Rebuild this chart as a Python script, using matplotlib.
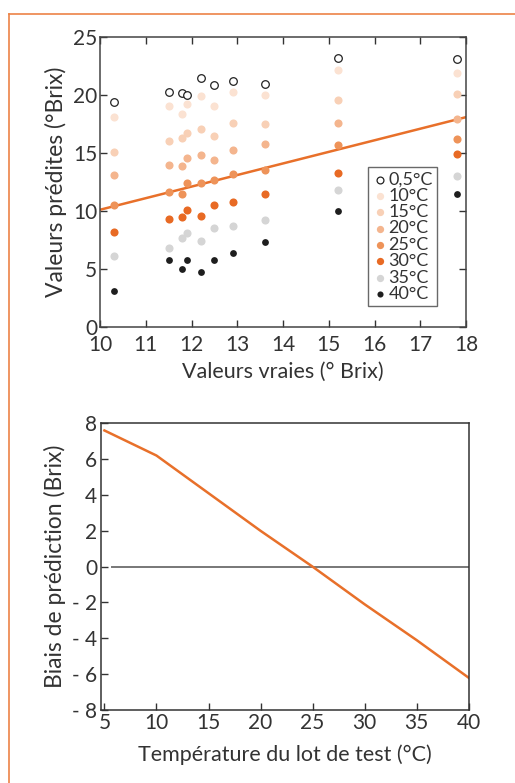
import matplotlib.pyplot as plt
from matplotlib.lines import Line2D

plt.rcParams['font.family'] = ['Lato', 'DejaVu Sans']
plt.rcParams['text.color'] = '#333333'
plt.rcParams['axes.labelcolor'] = '#333333'
plt.rcParams['xtick.color'] = '#333333'
plt.rcParams['ytick.color'] = '#333333'

# valeurs vraies (° Brix) des lots de test
true_vals = [10.3, 11.5, 11.8, 11.9, 12.2, 12.5, 12.9, 13.6, 15.2, 17.8]

# valeurs prédites par température
pred = {
    '0,5°C': [19.4, 20.3, 20.2, 20.0, 21.5, 20.9, 21.2, 21.0, 23.2, 23.1],
    '10°C': [18.1, 19.1, 18.4, 19.2, 19.9, 19.1, 20.3, 20.0, 22.2, 21.9],
    '15°C': [15.1, 16.0, 16.3, 16.7, 17.1, 16.5, 17.6, 17.5, 19.6, 20.1],
    '20°C': [13.1, 14.0, 13.9, 14.6, 14.8, 14.4, 15.3, 15.8, 17.6, 17.9],
    '25°C': [10.5, 11.6, 11.5, 12.4, 12.4, 12.7, 13.2, 13.5, 15.7, 16.2],
    '30°C': [8.2, 9.3, 9.5, 10.1, 9.6, 10.5, 10.8, 11.5, 13.3, 14.9],
    '35°C': [6.1, 6.8, 7.7, 8.1, 7.4, 8.5, 8.7, 9.2, 11.8, 13.0],
    '40°C': [3.1, 5.8, 5.0, 5.8, 4.7, 5.8, 6.4, 7.3, 10.0, 11.5],
}
colors = {
    '0,5°C': 'white', '10°C': '#fbe2d2', '15°C': '#f8d0b6', '20°C': '#f4b58e',
    '25°C': '#ee9359', '30°C': '#e86a24', '35°C': '#d5d5d5', '40°C': '#1e1e1e',
}

# droite de régression
fit_x = [10, 18]
fit_y = [10.1, 18.1]

# biais de prédiction en fonction de la température
temps = [5, 10, 15, 20, 25, 30, 35, 40]
bias = [7.6, 6.2, 4.1, 2.0, 0.0, -2.1, -4.1, -6.2]

orange = '#e8702a'

fig = plt.figure(figsize=(5.15, 7.83), dpi=100)

# cadre orange
fig.add_artist(Line2D([9 / 515, 1], [1 - 14 / 783] * 2, color='#ec8347', lw=1.2))
fig.add_artist(Line2D([9 / 515] * 2, [0, 1 - 14 / 783], color='#ec8347', lw=1.2))

# --- graphique du haut
ax1 = fig.add_axes([0.1942, 0.5828, 0.7107, 0.3696])
for lab, vals in pred.items():
    if lab == '0,5°C':
        ax1.scatter(true_vals, vals, s=30, facecolor='white', edgecolor='#222222',
                    linewidth=0.9, label=lab, zorder=3)
    elif lab == '40°C':
        ax1.scatter(true_vals, vals, s=24, color=colors[lab], linewidth=0, label=lab, zorder=3)
    else:
        ax1.scatter(true_vals, vals, s=34, color=colors[lab], linewidth=0, label=lab, zorder=3)
ax1.plot(fit_x, fit_y, color=orange, lw=1.8, zorder=2)

ax1.set_xlim(10, 18)
ax1.set_ylim(0, 25)
ax1.set_xticks(range(10, 19))
ax1.set_yticks(range(0, 26, 5))
ax1.tick_params(direction='in', top=True, right=True, length=5, width=1,
                labelsize=15, pad=2)
ax1.tick_params(axis='x', pad=6)
for sp in ax1.spines.values():
    sp.set_color('#444444')
    sp.set_linewidth(1.1)
ax1.set_xlabel('Valeurs vraies (° Brix)', fontsize=15.5, labelpad=5)
ax1.set_ylabel('Valeurs prédites (°Brix)', fontsize=16.5, labelpad=4)

leg = ax1.legend(loc='lower right', bbox_to_anchor=(0.922, 0.07), fontsize=13,
                 frameon=True, fancybox=False, handletextpad=0.0,
                 handlelength=0.9, labelspacing=0.02, borderpad=0.25,
                 borderaxespad=0, markerscale=0.9)
leg.get_frame().set_edgecolor('#444444')
leg.get_frame().set_linewidth(1.0)

# --- graphique du bas
ax2 = fig.add_axes([0.1967, 0.0932, 0.7134, 0.3662])
ax2.axhline(0, color='#777777', lw=1.4, xmin=0.03, zorder=1)
ax2.plot(temps, bias, color=orange, lw=1.8, zorder=2)
ax2.set_xlim(4.7, 40)
ax2.set_ylim(-8, 8)
ax2.set_xticks(temps)
ax2.set_yticks(range(-8, 9, 2))
ax2.set_yticklabels([f'- {abs(v)}' if v < 0 else str(v) for v in range(-8, 9, 2)])
ax2.tick_params(direction='in', length=5, width=1, labelsize=15, pad=3)
ax2.tick_params(axis='x', pad=2)
for sp in ax2.spines.values():
    sp.set_color('#333333')
    sp.set_linewidth(1.1)
ax2.set_xlabel('Température du lot de test (°C)', fontsize=15.5, labelpad=8)
ax2.set_ylabel('Biais de prédiction (Brix)', fontsize=16.5, labelpad=4)

fig.savefig('out.png', dpi=100)
